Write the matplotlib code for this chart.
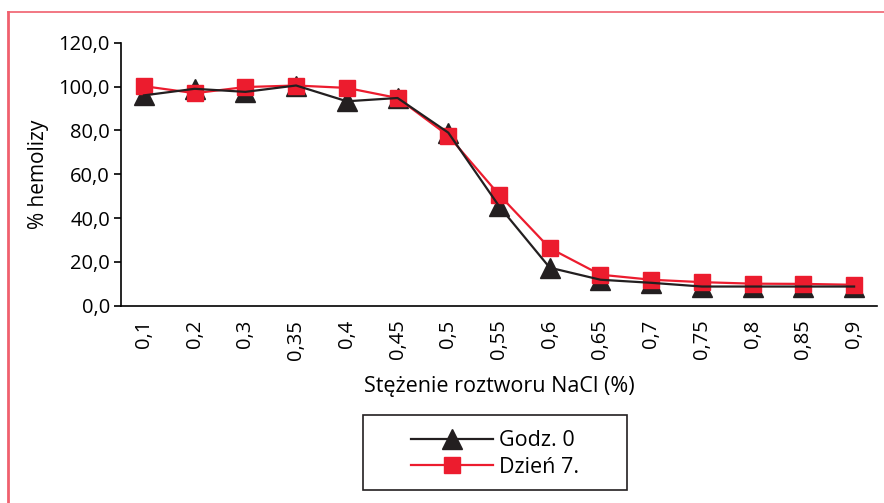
import matplotlib
matplotlib.use('Agg')
import matplotlib.pyplot as plt
from matplotlib.lines import Line2D
from matplotlib.patches import Rectangle

plt.rcParams['font.family'] = ['Open Sans', 'DejaVu Sans']

# stezenia NaCl (%)
categories = ['0,1', '0,2', '0,3', '0,35', '0,4', '0,45', '0,5', '0,55',
              '0,6', '0,65', '0,7', '0,75', '0,8', '0,85', '0,9']
godz0 = [96.0, 99.0, 97.6, 100.5, 93.3, 94.8, 79.0, 45.5,
         17.4, 11.9, 10.5, 8.8, 8.8, 8.8, 8.8]
dzien7 = [100.2, 97.0, 99.8, 100.5, 99.4, 94.8, 77.6, 50.7,
          26.3, 14.2, 11.9, 10.8, 10.1, 10.0, 9.6]
yticks = [0, 20, 40, 60, 80, 100, 120]

RED = '#ec1c2e'
BLK = '#231f20'

fig = plt.figure(figsize=(8.84, 5.03), dpi=100)
ax = fig.add_axes([0.137, 0.392, 0.855, 0.523])

x = list(range(len(categories)))
# markery pod liniami (jak w Excelu)
ax.plot(x, godz0, ls='none', marker='^', ms=14, mec=BLK, mfc=BLK, zorder=2)
ax.plot(x, dzien7, ls='none', marker='s', ms=12, mec=RED, mfc=RED, zorder=3)
ax.plot(x, dzien7, color=RED, lw=1.6, zorder=4)
ax.plot(x, godz0, color=BLK, lw=1.6, zorder=5)

ax.set_xlim(-0.45, len(categories) - 0.55)
ax.set_ylim(0, 120)
ax.set_yticks(yticks)
ax.set_yticklabels([f'{v:.1f}'.replace('.', ',') for v in yticks], fontsize=14.5)
ax.set_xticks(x)
ax.set_xticklabels(categories, rotation=90, fontsize=14.5)
ax.tick_params(axis='x', length=0, pad=10)
ax.tick_params(axis='y', length=5, direction='out', width=1.2, pad=3)

for s in ['top', 'right']:
    ax.spines[s].set_visible(False)
for s in ['left', 'bottom']:
    ax.spines[s].set_linewidth(1.2)

ax.set_ylabel('% hemolizy', fontsize=15, labelpad=7)
ax.set_xlabel('Stężenie roztworu NaCl (%)', fontsize=15.5, labelpad=12)

handles = [Line2D([], [], color=BLK, lw=1.6, marker='^', ms=14, mfc=BLK, mec=BLK),
           Line2D([], [], color=RED, lw=1.6, marker='s', ms=12, mfc=RED, mec=RED)]
leg = fig.legend(handles, ['Godz. 0', 'Dzień 7.'], loc='center',
                 bbox_to_anchor=(0.56, 1 - 454 / 503), fontsize=15.5,
                 frameon=False, handlelength=3.8, handletextpad=0.3,
                 labelspacing=0.25)
fig.add_artist(Rectangle((363 / 884, 1 - 490 / 503), 264 / 884, 75 / 503,
                         transform=fig.transFigure, fill=False,
                         edgecolor=BLK, lw=1.2))

# ramka
frame_c = '#f0606e'
fig.add_artist(Line2D([8 / 884, 8 / 884], [0, 1 - 12 / 503], color=frame_c, lw=2))
fig.add_artist(Line2D([8 / 884, 1], [1 - 12 / 503, 1 - 12 / 503], color=frame_c, lw=1.2))

fig.savefig('out.png', dpi=100)
